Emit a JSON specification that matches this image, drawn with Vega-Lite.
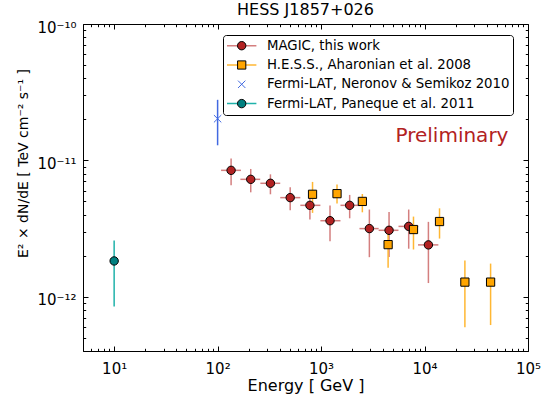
{
  "$schema": "https://vega.github.io/schema/vega-lite/v6.json",
  "width": 445,
  "height": 327,
  "autosize": {"type": "none"},
  "padding": {"left": 83, "top": 24, "right": 17, "bottom": 47},
  "title": {"text": "HESS J1857+026", "font": "DejaVu Sans", "fontSize": 16, "fontWeight": "normal", "color": "black", "anchor": "middle", "frame": "group", "baseline": "alphabetic", "offset": -11},
  "config": {
    "font": "DejaVu Sans",
    "view": {"stroke": null},
    "axis": {"grid": false, "domainColor": "black", "domainWidth": 1, "tickColor": "black", "tickWidth": 1, "labelColor": "black", "titleColor": "black", "labelFont": "DejaVu Sans", "titleFont": "DejaVu Sans", "titleFontWeight": "normal", "labelFontSize": 15, "labelFlush": false, "labelOverlap": false, "labelBound": false}
  },
  "data": {"values": [
    {"series": "MAGIC, this work", "E": 135, "F": 8.45e-12, "Flo": 6.56e-12, "Fhi": 1.03e-11, "Elo": 108, "Ehi": 168},
    {"series": "MAGIC, this work", "E": 209, "F": 7.26e-12, "Flo": 5.83e-12, "Fhi": 8.65e-12, "Elo": 166, "Ehi": 258},
    {"series": "MAGIC, this work", "E": 324, "F": 6.79e-12, "Flo": 5.64e-12, "Fhi": 7.9e-12, "Elo": 259, "Ehi": 403},
    {"series": "MAGIC, this work", "E": 503, "F": 5.33e-12, "Flo": 4.3e-12, "Fhi": 6.34e-12, "Elo": 403, "Ehi": 630},
    {"series": "MAGIC, this work", "E": 780, "F": 4.68e-12, "Flo": 3.68e-12, "Fhi": 5.83e-12, "Elo": 630, "Ehi": 985},
    {"series": "MAGIC, this work", "E": 1220, "F": 3.61e-12, "Flo": 2.55e-12, "Fhi": 4.66e-12, "Elo": 985, "Ehi": 1540},
    {"series": "MAGIC, this work", "E": 1890, "F": 4.68e-12, "Flo": 3.76e-12, "Fhi": 5.58e-12, "Elo": 1540, "Ehi": 2400},
    {"series": "MAGIC, this work", "E": 2930, "F": 3.16e-12, "Flo": 1.95e-12, "Fhi": 4.36e-12, "Elo": 2350, "Ehi": 3600},
    {"series": "MAGIC, this work", "E": 4540, "F": 3.07e-12, "Flo": 1.96e-12, "Fhi": 4.19e-12, "Elo": 3600, "Ehi": 5600},
    {"series": "MAGIC, this work", "E": 7030, "F": 3.28e-12, "Flo": 2.25e-12, "Fhi": 4.36e-12, "Elo": 5600, "Ehi": 8700},
    {"series": "MAGIC, this work", "E": 10900, "F": 2.4e-12, "Flo": 1.26e-12, "Fhi": 3.54e-12, "Elo": 8650, "Ehi": 13600},
    {"series": "H.E.S.S., Aharonian et al. 2008", "E": 827, "F": 5.64e-12, "Flo": 4.12e-12, "Fhi": 6.95e-12},
    {"series": "H.E.S.S., Aharonian et al. 2008", "E": 1426, "F": 5.7e-12, "Flo": 4.82e-12, "Fhi": 6.64e-12},
    {"series": "H.E.S.S., Aharonian et al. 2008", "E": 2506, "F": 5.0e-12, "Flo": 4.16e-12, "Fhi": 5.67e-12},
    {"series": "H.E.S.S., Aharonian et al. 2008", "E": 4445, "F": 2.41e-12, "Flo": 1.63e-12, "Fhi": 3.1e-12},
    {"series": "H.E.S.S., Aharonian et al. 2008", "E": 7820, "F": 3.11e-12, "Flo": 2.22e-12, "Fhi": 3.87e-12},
    {"series": "H.E.S.S., Aharonian et al. 2008", "E": 13960, "F": 3.56e-12, "Flo": 2.67e-12, "Fhi": 4.45e-12},
    {"series": "H.E.S.S., Aharonian et al. 2008", "E": 24550, "F": 1.28e-12, "Flo": 5.98e-13, "Fhi": 1.84e-12},
    {"series": "H.E.S.S., Aharonian et al. 2008", "E": 43500, "F": 1.28e-12, "Flo": 6.2e-13, "Fhi": 1.75e-12},
    {"series": "Fermi-LAT, Neronov & Semikoz 2010", "E": 100, "F": 2.02e-11, "Flo": 1.29e-11, "Fhi": 2.78e-11},
    {"series": "Fermi-LAT, Paneque et al. 2011", "E": 10, "F": 1.83e-12, "Flo": 8.47e-13, "Fhi": 2.58e-12}
  ]},
  "resolve": {"axis": {"x": "independent", "y": "independent"}},
  "layer": [
    {
      "mark": {"type": "rule", "strokeWidth": 1.5},
      "encoding": {
        "x": {"field": "E", "type": "quantitative",
              "scale": {"type": "log", "domain": [5, 100000], "nice": false},
              "axis": {"orient": "bottom",
                       "values": [5,6,7,8,9,10,20,30,40,50,60,70,80,90,100,200,300,400,500,600,700,800,900,1000,2000,3000,4000,5000,6000,7000,8000,9000,10000,20000,30000,40000,50000,60000,70000,80000,90000,100000],
                       "labelExpr": "datum.value == 10 ? '10¹' : datum.value == 100 ? '10²' : datum.value == 1000 ? '10³' : datum.value == 10000 ? '10⁴' : datum.value == 100000 ? '10⁵' : ''",
                       "tickSize": {"condition": {"test": "datum.value == 10 || datum.value == 100 || datum.value == 1000 || datum.value == 10000 || datum.value == 100000", "value": -5}, "value": -2.7},
                       "labelPadding": 15,
                       "title": "Energy [ GeV ]", "titleFontSize": 16, "titleY": 39, "titleBaseline": "alphabetic"}},
        "y": {"field": "Flo", "type": "quantitative",
              "scale": {"type": "log", "domain": [4e-13, 1e-10], "nice": false},
              "axis": {"orient": "left",
                       "values": [4e-13,5e-13,6e-13,7e-13,8e-13,9e-13,1e-12,2e-12,3e-12,4e-12,5e-12,6e-12,7e-12,8e-12,9e-12,1e-11,2e-11,3e-11,4e-11,5e-11,6e-11,7e-11,8e-11,9e-11,1e-10],
                       "labelExpr": "datum.value == 1e-10 ? '10⁻¹⁰' : datum.value == 1e-11 ? '10⁻¹¹' : datum.value == 1e-12 ? '10⁻¹²' : ''",
                       "tickSize": {"condition": {"test": "datum.value == 1e-10 || datum.value == 1e-11 || datum.value == 1e-12", "value": -5}, "value": -2.7},
                       "labelPadding": 12, "labelOffset": 3,
                       "title": "E² × dN/dE  [ TeV cm⁻² s⁻¹ ]", "titleFontSize": 14, "titleAngle": -90, "titleX": -56, "titleY": 139, "titleAlign": "center", "titleBaseline": "alphabetic"}},
        "y2": {"field": "Fhi"},
        "stroke": {"field": "series", "type": "nominal",
                   "scale": {"domain": ["MAGIC, this work", "H.E.S.S., Aharonian et al. 2008", "Fermi-LAT, Neronov & Semikoz 2010", "Fermi-LAT, Paneque et al. 2011"],
                             "range": ["#d47f7f", "#ffb733", "#4169e1", "#20b2aa"]},
                   "legend": {"title": null, "orient": "none", "legendX": 140, "legendY": 11, "direction": "vertical",
                              "symbolType": "stroke", "symbolSize": 864, "symbolStrokeWidth": 1.5,
                              "symbolOpacity": {"expr": "datum.value === 'Fermi-LAT, Neronov & Semikoz 2010' ? 0 : 1"},
                              "labelFont": "DejaVu Sans", "labelFontSize": 13.3, "labelColor": "black", "labelLimit": 400,
                              "padding": 3.2, "clipHeight": 15, "rowPadding": 4.3, "labelOffset": 9.8,
                              "strokeColor": "black", "fillColor": "white", "cornerRadius": 3, "zindex": 1}}
      }
    },
    {
      "transform": [{"filter": "datum.series === 'MAGIC, this work'"}],
      "mark": {"type": "rule", "strokeWidth": 1.5},
      "encoding": {
        "x": {"field": "Elo", "type": "quantitative", "scale": {"type": "log", "domain": [5, 100000], "nice": false}, "axis": null},
        "x2": {"field": "Ehi"},
        "y": {"field": "F", "type": "quantitative", "scale": {"type": "log", "domain": [4e-13, 1e-10], "nice": false}, "axis": null},
        "stroke": {"field": "series", "type": "nominal", "legend": null,
                   "scale": {"domain": ["MAGIC, this work", "H.E.S.S., Aharonian et al. 2008", "Fermi-LAT, Neronov & Semikoz 2010", "Fermi-LAT, Paneque et al. 2011"],
                             "range": ["#d47f7f", "#ffb733", "#4169e1", "#20b2aa"]}}
      }
    },
    {
      "mark": {"type": "point", "filled": true, "size": 864, "strokeWidth": 1, "opacity": 1},
      "encoding": {
        "x": {"field": "E", "type": "quantitative",
              "scale": {"type": "log", "domain": [5, 100000], "nice": false},
              "axis": {"orient": "top", "labels": false, "title": null,
                       "values": [5,6,7,8,9,10,20,30,40,50,60,70,80,90,100,200,300,400,500,600,700,800,900,1000,2000,3000,4000,5000,6000,7000,8000,9000,10000,20000,30000,40000,50000,60000,70000,80000,90000,100000],
                       "tickSize": {"condition": {"test": "datum.value == 10 || datum.value == 100 || datum.value == 1000 || datum.value == 10000 || datum.value == 100000", "value": -5}, "value": -2.7}}},
        "y": {"field": "F", "type": "quantitative",
              "scale": {"type": "log", "domain": [4e-13, 1e-10], "nice": false},
              "axis": {"orient": "right", "labels": false, "title": null,
                       "values": [4e-13,5e-13,6e-13,7e-13,8e-13,9e-13,1e-12,2e-12,3e-12,4e-12,5e-12,6e-12,7e-12,8e-12,9e-12,1e-11,2e-11,3e-11,4e-11,5e-11,6e-11,7e-11,8e-11,9e-11,1e-10],
                       "tickSize": {"condition": {"test": "datum.value == 1e-10 || datum.value == 1e-11 || datum.value == 1e-12", "value": -5}, "value": -2.7}}},
        "fill": {"field": "series", "type": "nominal", "legend": null,
                 "scale": {"domain": ["MAGIC, this work", "H.E.S.S., Aharonian et al. 2008", "Fermi-LAT, Neronov & Semikoz 2010", "Fermi-LAT, Paneque et al. 2011"],
                           "range": ["#b22222", "#ffa500", "#4169e1", "#008080"]}},
        "shape": {"field": "series", "type": "nominal",
                  "sort": ["MAGIC, this work", "H.E.S.S., Aharonian et al. 2008", "Fermi-LAT, Neronov & Semikoz 2010", "Fermi-LAT, Paneque et al. 2011"],
                  "scale": {"range": ["M-0.286,0A0.286,0.286,0,1,1,0.286,0A0.286,0.286,0,1,1,-0.286,0Z", "M-0.28,-0.28H0.28V0.28H-0.28Z", "M-0.25,-0.25L0.25,0.25M-0.25,0.25L0.25,-0.25", "M-0.286,0A0.286,0.286,0,1,1,0.286,0A0.286,0.286,0,1,1,-0.286,0Z"]},
                  "legend": {"title": null, "orient": "none", "legendX": 140, "legendY": 11, "direction": "vertical",
                            "symbolSize": 864, "symbolStrokeWidth": 1, "symbolOpacity": 1,
                            "symbolStrokeColor": {"expr": "datum.value === 'Fermi-LAT, Neronov & Semikoz 2010' ? '#4169e1' : 'black'"},
                            "symbolFillColor": {"expr": "datum.value === 'MAGIC, this work' ? '#b22222' : datum.value === 'H.E.S.S., Aharonian et al. 2008' ? '#ffa500' : datum.value === 'Fermi-LAT, Paneque et al. 2011' ? '#008080' : '#4169e1'"},
                            "labelFont": "DejaVu Sans", "labelFontSize": 13.3, "labelOpacity": 0, "labelLimit": 400,
                            "padding": 3.2, "clipHeight": 15, "rowPadding": 4.3, "labelOffset": 9.8, "zindex": 2}},
        "stroke": {"condition": {"test": "datum.series === 'Fermi-LAT, Neronov & Semikoz 2010'", "value": "#4169e1"}, "value": "black"}
      }
    },
    {
      "data": {"values": [{"label": "Preliminary"}]},
      "mark": {"type": "text", "align": "left", "baseline": "alphabetic", "fontSize": 20, "font": "DejaVu Sans", "color": "#b22222"},
      "encoding": {
        "x": {"datum": 5240, "type": "quantitative", "scale": {"type": "log", "domain": [5, 100000], "nice": false}, "axis": null},
        "y": {"datum": 1.355e-11, "type": "quantitative", "scale": {"type": "log", "domain": [4e-13, 1e-10], "nice": false}, "axis": null},
        "text": {"field": "label"}
      }
    }
  ]
}
